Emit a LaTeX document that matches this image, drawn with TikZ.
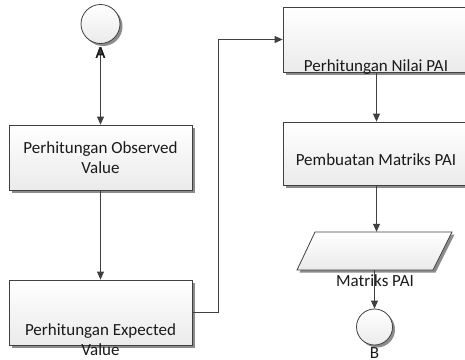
\documentclass[tikz,border=0pt]{standalone}
\usepackage{fontspec}
\setmainfont{Carlito}
\usetikzlibrary{arrows.meta,shadows}
\definecolor{linec}{HTML}{404040}
\definecolor{txtc}{HTML}{1A1A1A}
\tikzset{
  sh/.style={drop shadow={shadow xshift=2.5pt, shadow yshift=-2.5pt, fill=black!45, opacity=1}},
  proc/.style={draw=linec, line width=0.8pt, top color=white, bottom color=black!8, sh, inner sep=0pt},
  term/.style={circle, draw=linec, line width=0.8pt, top color=white, bottom color=black!8, sh, minimum size=#1, inner sep=0pt},
  lbl/.style={text=txtc, font=\fontsize{17}{20}\selectfont, align=center, inner sep=0pt},
  conn/.style={draw=linec, line width=0.8pt, -{Triangle[length=8pt,width=7pt]}},
}
\begin{document}
\begin{tikzpicture}[x=1pt,y=-1pt]
\clip (0,0) rectangle (465,359);
\fill[white] (0,0) rectangle (465,359);
% circle A
\node[term=39pt] (A) at (100.5,24) {};
\node[lbl] (labA) at (100.5,53) {A};
% boxes
\node[proc, minimum width=183pt, minimum height=65pt] (b1) at (100.5,157.5) {};
\node[lbl] at (100.5,157.5) {Perhitungan Observed\\Value};
\node[proc, minimum width=183pt, minimum height=65pt] (b2) at (100.5,312.5) {};
\node[lbl] at (100.5,340) {Perhitungan Expected\\Value};
\node[proc, minimum width=187pt, minimum height=65pt] (b3) at (376.5,39.5) {};
\node[lbl] at (376,67) {Perhitungan Nilai PAI};
\node[proc, minimum width=187pt, minimum height=63pt] (b4) at (376.5,153.5) {};
\node[lbl] at (376,160) {Pembuatan Matriks PAI};
% parallelogram
\path[draw=linec, line width=0.8pt, top color=white, bottom color=black!8, sh]
  (297,270) -- (315,232) -- (452,232) -- (433,270) -- cycle;
\node[minimum width=137pt, minimum height=38pt, inner sep=0pt] (out) at (374.5,251) {};
\node[lbl] at (375,281) {Matriks PAI};
% circle B
\node[term=36pt] (B) at (374.5,327) {};
\node[lbl, anchor=north] (labB) at (374.5,347.5) {B};
% connectors
\draw[conn, {Triangle[length=8pt,width=7pt]}-{Triangle[length=8pt,width=7pt]}] (labA.north) -- (b1.north);
\draw[conn] (b1.south) -- (b2.north);
\draw[conn] (b2.east) -- ++(26,0) |- (b3.west);
\draw[conn] (b3.south -| b4.north) -- (b4.north);
\draw[conn] (b4.south) -- (b4.south |- out.north);
\draw[conn] (out.south -| B.north) -- (B.north);
\node[lbl] at (labA) {A};
\end{tikzpicture}
\end{document}
